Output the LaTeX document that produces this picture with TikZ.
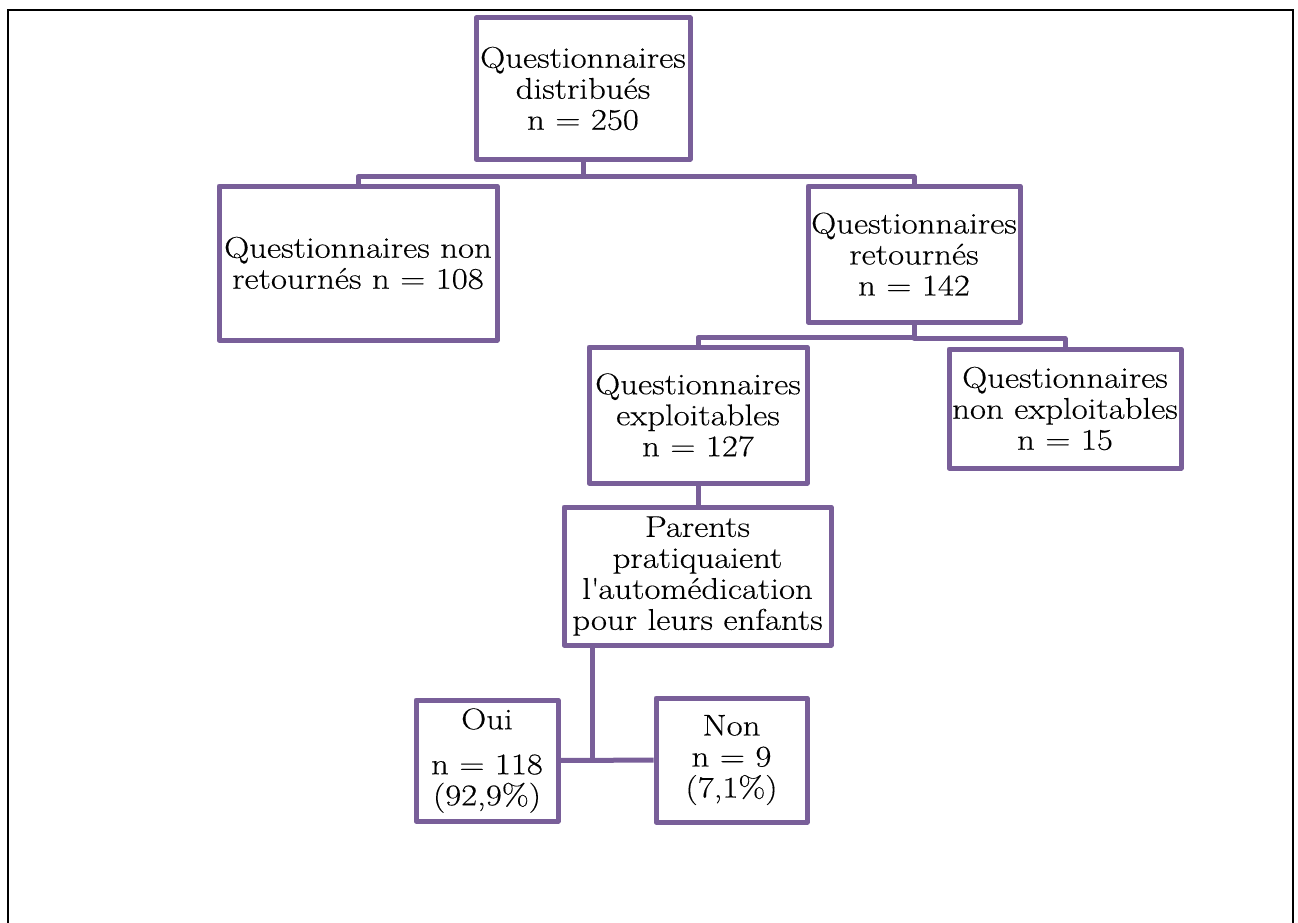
\documentclass[tikz,border=0pt]{standalone}
\usepackage{fontspec}
\setmainfont{Latin Modern Roman}[FakeStretch=1.16,FakeBold=0.3]
\usetikzlibrary{calc}
\definecolor{boxpurple}{RGB}{121,95,153}
\begin{document}
\begin{tikzpicture}[x=1pt,y=-1pt,
  box/.style={draw=boxpurple,line width=5pt,line join=round,fill=white,inner sep=0pt,align=center,
    font=\fontsize{30}{31}\selectfont},
  conn/.style={draw=boxpurple,line width=5pt,line join=round}]
\useasboundingbox (0,0) rectangle (1298,923);
\draw[line width=2pt] (8,923) -- (8,10) -- (1293,10) -- (1293,923);
\node[box,minimum width=214pt,minimum height=141pt] (A) at (583,88.5) {Questionnaires\\distribués\\n = 250};
\node[box,minimum width=278pt,minimum height=154pt] (B) at (358,263) {Questionnaires non\\retournés n = 108};
\node[box,minimum width=212pt,minimum height=136pt] (C) at (914,254) {Questionnaires\\retournés\\n = 142};
\node[box,minimum width=218pt,minimum height=136pt] (D) at (698,415) {Questionnaires\\exploitables\\n = 127};
\node[box,minimum width=232pt,minimum height=119pt] (E) at (1065,408.5) {Questionnaires\\non exploitables\\n = 15};
\node[box,minimum width=267pt,minimum height=138pt] (F) at (697.5,576) {Parents\\pratiquaient\\l\textquotesingle automédication\\pour leurs enfants};
\node[box,minimum width=142pt,minimum height=121pt] (G) at (487,760.5) {Oui\\[14pt]n = 118\\(92,9\%)};
\node[box,minimum width=151pt,minimum height=124pt] (H) at (731.5,760) {Non\\n = 9\\(7,1\%)};
\draw[conn] (A.south) -- ++(0,15) -| (B.north);
\draw[conn] (A.south) -- ++(0,15) -| (C.north);
\draw[conn] (C.south) -- ++(0,13) -| (D.north);
\draw[conn] (C.south) -- ++(0,14) -| (E.north);
\draw[conn] (D.south) -- (D.south |- F.north);
\coordinate (j) at (592,760);
\draw[conn] (F.south -| j) -- (j);
\draw[conn] (G) -- (H);
\end{tikzpicture}
\end{document}
